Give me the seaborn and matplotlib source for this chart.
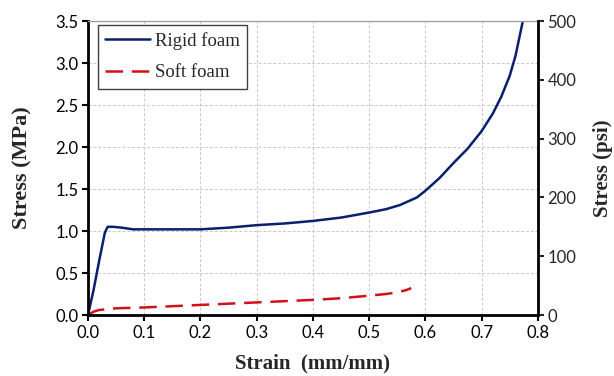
import matplotlib
matplotlib.use("Agg")
import matplotlib.pyplot as plt
import seaborn as sns
import pandas as pd

# Compression test curves (strain in mm/mm, stress in MPa)
rigid_strain = [0.0, 0.01, 0.02, 0.03, 0.035, 0.045, 0.06, 0.08, 0.1, 0.15, 0.2, 0.25, 0.3, 0.35,
                0.4, 0.45, 0.5, 0.53, 0.555, 0.585, 0.6, 0.625, 0.65, 0.675, 0.7, 0.72, 0.735,
                0.75, 0.76, 0.773]
rigid_stress = [0.0, 0.3, 0.65, 0.98, 1.05, 1.05, 1.04, 1.02, 1.02, 1.02, 1.02, 1.04, 1.07, 1.09,
                1.12, 1.16, 1.22, 1.26, 1.31, 1.40, 1.48, 1.63, 1.81, 1.98, 2.19, 2.40, 2.60,
                2.85, 3.08, 3.49]
soft_strain = [0.0, 0.01, 0.02, 0.05, 0.1, 0.15, 0.2, 0.25, 0.3, 0.35, 0.4, 0.45, 0.5, 0.53,
               0.55, 0.565, 0.575]
soft_stress = [0.0, 0.04, 0.06, 0.08, 0.09, 0.105, 0.12, 0.135, 0.15, 0.165, 0.18, 0.20, 0.23,
               0.25, 0.27, 0.295, 0.32]

x_ticks = [0.0, 0.1, 0.2, 0.3, 0.4, 0.5, 0.6, 0.7, 0.8]
mpa_ticks = [0.0, 0.5, 1.0, 1.5, 2.0, 2.5, 3.0, 3.5]
psi_ticks = [0, 100, 200, 300, 400, 500]

sns.set_style("white")
plt.rcParams["font.family"] = ["Liberation Serif", "DejaVu Serif"]
tick_font = {"family": ["Lato", "DejaVu Sans"], "size": 12}

rigid = pd.DataFrame({"strain": rigid_strain, "stress": rigid_stress})
soft = pd.DataFrame({"strain": soft_strain, "stress": soft_stress})

fig = plt.figure(figsize=(6.14, 3.76), dpi=100)
ax = fig.add_axes([0.1433, 0.1622, 0.7327, 0.7818])

sns.lineplot(data=rigid, x="strain", y="stress", ax=ax, sort=False, estimator=None,
             color="#0a1f6e", linewidth=1.8, label="Rigid foam")
sns.lineplot(data=soft, x="strain", y="stress", ax=ax, sort=False, estimator=None,
             color="#d0101a", linewidth=1.8, label="Soft foam", dashes=False)
ax.lines[1].set_dashes([7, 3.5])

ax.set_xlim(0, 0.8)
ax.set_ylim(0, 3.5)
ax.set_xticks(x_ticks)
ax.set_xticklabels([f"{v:.1f}" for v in x_ticks], fontdict=tick_font)
ax.set_yticks(mpa_ticks)
ax.set_yticklabels([f"{v:.1f}" for v in mpa_ticks], fontdict=tick_font)
ax.grid(True, color="#c8c8c8", linestyle=(0, (3, 2)), linewidth=0.7)
ax.tick_params(axis="both", length=4, width=1.5, direction="out",
               left=True, bottom=True, colors="black", pad=3)
ax.set_xlabel("Strain  (mm/mm)", fontsize=15, fontweight="bold", labelpad=9)
ax.set_ylabel("Stress (MPa)", fontsize=16, fontweight="bold", labelpad=16)

for side in ("left", "bottom"):
    ax.spines[side].set_color("black")
    ax.spines[side].set_linewidth(2)
ax.spines["top"].set_color("#a0a0a0")
ax.spines["top"].set_linewidth(1)
ax.spines["right"].set_visible(False)

ax2 = ax.twinx()
ax2.set_ylim(0, 500)
ax2.set_yticks(psi_ticks)
ax2.set_yticklabels([str(v) for v in psi_ticks], fontdict=tick_font)
ax2.tick_params(axis="y", length=4, width=1.5, direction="out", right=True, pad=3)
ax2.set_ylabel("Stress (psi)", fontsize=15, fontweight="bold", labelpad=12)
for side in ("left", "top", "bottom"):
    ax2.spines[side].set_visible(False)
ax2.spines["right"].set_color("black")
ax2.spines["right"].set_linewidth(2)

leg = ax.legend(loc="upper left", bbox_to_anchor=(0.022, 0.988), fontsize=13.5,
                frameon=True, fancybox=False, edgecolor="#404040", framealpha=1,
                handlelength=2.4, handletextpad=0.25, borderpad=0.4, labelspacing=0.75,
                borderaxespad=0)
leg.get_frame().set_linewidth(1.0)

fig.savefig("out.png", dpi=100)
